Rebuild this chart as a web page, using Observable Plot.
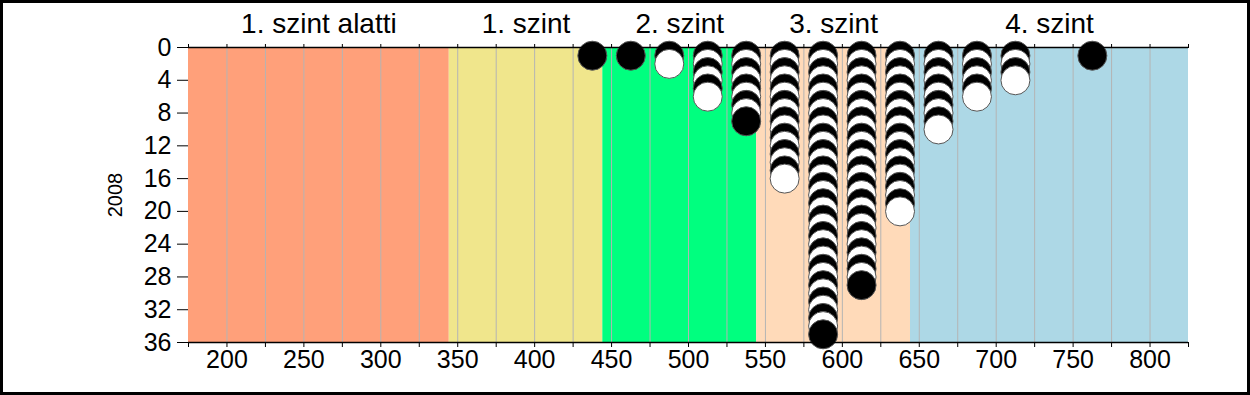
<!DOCTYPE html>
<html>
<head>
<meta charset="utf-8">
<script src="https://cdn.jsdelivr.net/npm/d3@7"></script>
<script src="https://cdn.jsdelivr.net/npm/@observablehq/plot@0.6"></script>
<style>
  html, body { margin: 0; padding: 0; background: #fff; }
  #wrap { position: relative; width: 1250px; height: 395px; overflow: hidden; }
  #border { position: absolute; left: 0; top: 0; width: 1250px; height: 395px; box-sizing: border-box; border: 3px solid #000; pointer-events: none; }
  svg { display: block; }
  #chart g[aria-label*="tick label"], #chart g[aria-label*="tick label"] text { font-size: 25px !important; }
</style>
</head>
<body>
<div id="wrap"><div id="chart"></div><div id="border"></div></div>
<script>
// Level bands (score scale)
const levelNames = ["1. szint alatti", "1. szint", "2. szint", "3. szint", "4. szint"];
const levelStart = [175, 344.5, 444.3, 544.3, 644.3];
const levelEnd   = [344.5, 444.3, 544.3, 644.3, 825];
const levelColors = ["#FFA07A", "#F0E68C", "#00FF7F", "#FFDAB9", "#ADD8E6"];

// Histogram columns: bin centres and number of students in each bin
const binCenters = [437.5, 462.5, 487.5, 512.5, 537.5, 562.5, 587.5, 612.5, 637.5, 662.5, 687.5, 712.5, 737.5, 762.5];
const binCounts  = [1, 1, 2, 6, 9, 16, 35, 29, 20, 10, 6, 4, 0, 1];

// Axis ticks
const xTicks = d3.range(175, 826, 25);
const xLabels = [200, 250, 300, 350, 400, 450, 500, 550, 600, 650, 700, 750, 800];
const gridX = d3.range(200, 801, 25);
const yTicks = [0, 4, 8, 12, 16, 20, 24, 28, 32, 36];
const yLabel = "2008";

const bands = levelNames.map((name, i) => ({
  name, x1: levelStart[i], x2: levelEnd[i], fill: levelColors[i], mid: (levelStart[i] + levelEnd[i]) / 2
}));

const points = [];
binCenters.forEach((x, i) => {
  for (let k = 1; k <= binCounts[i]; k++) {
    points.push({x, y: k, fill: k % 2 === 1 ? "#000" : "#fff"});
  }
});

const chart = Plot.plot({
  width: 1250,
  height: 395,
  marginLeft: 188,
  marginRight: 62,
  marginTop: 47,
  marginBottom: 53,
  style: {fontFamily: "'Liberation Sans', Arial, sans-serif", fontSize: "24px", color: "#000", background: "transparent"},
  x: {domain: [175, 825]},
  y: {domain: [0, 36], reverse: true},
  marks: [
    Plot.rect(bands, {x1: "x1", x2: "x2", fill: "fill"}),
    Plot.ruleX(gridX, {stroke: "#b4b4b4", strokeWidth: 1}),
    Plot.dot(points, {x: "x", y: "y", r: 14.5, fill: "fill", stroke: "#555", strokeWidth: 1}),
    Plot.ruleY([0], {stroke: "#000", strokeWidth: 1.5}),
    Plot.ruleY([36], {stroke: "#000", strokeWidth: 1.5}),
    Plot.axisX({anchor: "bottom", ticks: xTicks, tickSize: 5, tickPadding: 3, stroke: "#000",
      tickFormat: d => xLabels.includes(d) ? String(d) : "", fontSize: 25, label: null}),
    Plot.axisX({anchor: "top", ticks: xTicks, tickSize: 4, stroke: "#000", tickFormat: () => "", label: null}),
    Plot.axisY({ticks: yTicks, tickSize: 11, tickPadding: 6, stroke: "#000", fontSize: 25, label: null}),
    Plot.text(bands, {x: "mid", text: "name", frameAnchor: "top", dy: -23, fontSize: 28, fill: "#000", lineAnchor: "middle"}),
    Plot.text([yLabel], {text: d => d, frameAnchor: "left", dx: -73, rotate: -90, fontSize: 20, fill: "#000", textAnchor: "middle"})
  ]
});
d3.select(chart).selectAll('g[aria-label*="tick label"]').style("font-size", "25px").selectAll("text").style("font-size", "25px");
document.getElementById("chart").appendChild(chart);
</script>
</body>
</html>
